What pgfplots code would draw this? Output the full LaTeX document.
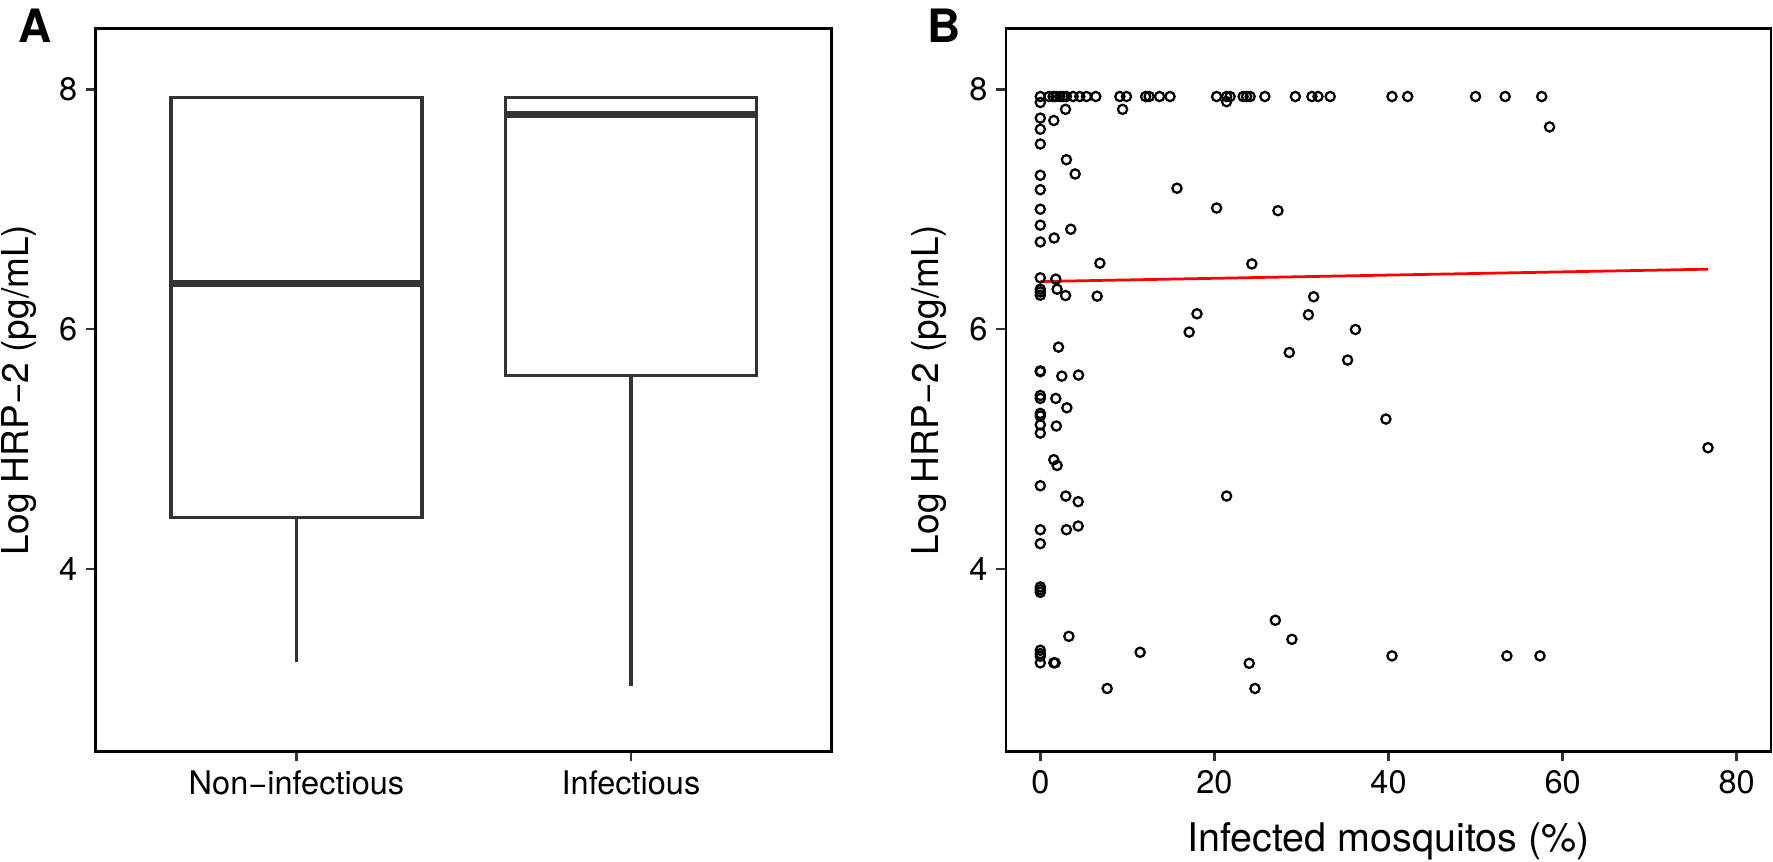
\documentclass[border=0pt]{standalone}
\usepackage{fontspec}
\setmainfont{TeX Gyre Heros}
\usepackage{pgfplots}
\pgfplotsset{compat=1.18}
\usepgfplotslibrary{statistics}
\definecolor{gg}{HTML}{333333}

\begin{document}
\begin{tikzpicture}
\useasboundingbox (0pt,0pt) rectangle (709.2pt,344.8pt);
\pgfplotsset{
 every axis/.append style={
  scale only axis,
  ymin=2.476, ymax=8.509,
  ytick={4,6,8},
  axis line style={black, line width=1pt},
  tick align=outside,
  tick pos=left,
  major tick length=3.9pt,
  tick style={gg, line width=1pt},
  ticklabel style={font=\fontsize{13}{15}\selectfont},
  /pgf/number format/assume math mode=true,
  label style={font=\fontsize{14.8}{17}\selectfont},
 }
}

% Panel A
\begin{axis}[at={(38.28pt,44.12pt)}, anchor=south west,
  width=294.4pt, height=289.36pt,
  xmin=0.4, xmax=2.6, xtick={1,2},
  xticklabels={Non−infectious, Infectious},
  ylabel={Log HRP−2 (pg/mL)},
  ylabel style={at={(axis description cs:-0.104,0.5)}, anchor=center},
  boxplot/draw direction=y, boxplot/box extend=0.75, boxplot/whisker extend=0]
\addplot[draw=gg, line width=1.3pt, solid,
  boxplot prepared={draw position=1, lower whisker=3.226, lower quartile=4.426,
  median=6.378, upper quartile=7.93, upper whisker=7.93},
  boxplot/every median/.style={line width=2.7pt}] coordinates {};
\addplot[draw=gg, line width=1.3pt, solid,
  boxplot prepared={draw position=2, lower whisker=3.02, lower quartile=5.613,
  median=7.79, upper quartile=7.93, upper whisker=7.93},
  boxplot/every median/.style={line width=2.7pt}] coordinates {};
\end{axis}

% Panel B
\begin{axis}[at={(402.4pt,44.12pt)}, anchor=south west,
  width=306pt, height=289.36pt,
  xmin=-3.94, xmax=83.94, xtick={0,20,40,60,80},
  xlabel={Infected mosquitos (\%)},
  ylabel={Log HRP−2 (pg/mL)},
  ylabel style={at={(axis description cs:-0.1007,0.5)}, anchor=center},
  xlabel style={at={(axis description cs:0.5,-0.138)}, anchor=base, font=\fontsize{15.8}{18}\selectfont}]
\addplot[only marks, mark=o, mark size=1.85pt, mark options={line width=0.9pt, draw=black}] coordinates {
(0,7.94) (1.0,7.94) (1.47,7.94) (1.8,7.94) (2.24,7.94) (2.6,7.94) (3.0,7.94) (3.77,7.94) (4.54,7.94) (5.3,7.94) (6.38,7.94)
(9.14,7.94) (9.9,7.94) (12.1,7.94) (12.5,7.94) (13.7,7.94) (14.9,7.94) (20.25,7.94) (21.4,7.94) (21.8,7.94)
(23.3,7.94) (23.7,7.94) (24.1,7.94) (25.8,7.94) (29.3,7.94) (31.2,7.94) (31.9,7.94) (33.3,7.94) (40.4,7.94)
(42.2,7.94) (50.0,7.94) (53.4,7.94) (57.6,7.94)
(0,7.89) (0,7.76) (0,7.667) (0,7.544) (2.9,7.833) (1.55,7.74) (9.45,7.833) (21.4,7.897) (58.5,7.686)
(3.0,7.413) (4.0,7.294) (0,7.283) (0,7.163) (15.7,7.175) (0,7.0) (20.25,7.01) (27.3,6.988) (0,6.867)
(3.5,6.833) (1.59,6.76) (0,6.727) (6.84,6.55) (24.3,6.544) (0,6.428) (1.78,6.417) (0,6.333) (0,6.31)
(0,6.283) (1.93,6.333) (2.9,6.28) (6.53,6.275) (31.4,6.27) (18.0,6.128) (30.8,6.12) (17.1,5.975)
(36.2,5.997) (2.09,5.85) (28.6,5.805) (35.3,5.742) (0,5.652) (0,5.645) (2.47,5.608) (4.39,5.617)
(0,5.447) (0,5.422) (1.78,5.422) (3.05,5.344) (0,5.297) (0,5.275) (0,5.202) (1.84,5.192) (0,5.133)
(1.55,4.911) (1.93,4.863) (0,4.694) (21.4,4.608) (2.93,4.608) (4.35,4.561) (0,4.327) (3.0,4.327)
(4.35,4.358) (0,4.211) (39.7,5.25) (76.7,5.011)
(0,3.85) (0,3.827) (0,3.805) (3.28,3.438) (0,3.322) (0,3.294) (0,3.272) (0,3.217) (1.55,3.217)
(1.7,3.217) (11.47,3.305) (7.68,3.003) (27.0,3.572) (28.9,3.413) (24.0,3.213) (24.66,3.003)
(40.4,3.275) (53.6,3.275) (57.4,3.275)
};
\addplot[red, line width=1.1pt] coordinates {(0,6.397) (76.7,6.50)};
\end{axis}

\node[anchor=base west, font=\bfseries\fontsize{18.4}{20}\selectfont, inner sep=0pt] at (7.2pt,327.6pt) {A};
\node[anchor=base west, font=\bfseries\fontsize{18.4}{20}\selectfont, inner sep=0pt] at (370.8pt,327.6pt) {B};
\end{tikzpicture}
\end{document}
